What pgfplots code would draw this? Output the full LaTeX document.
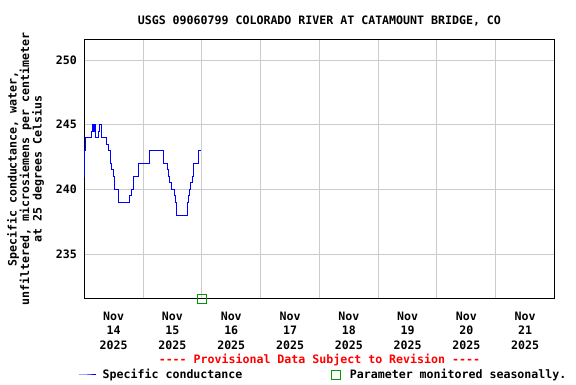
\documentclass[border=0pt]{standalone}
\usepackage{pgfplots}
\pgfplotsset{compat=1.18}
\usepackage{fontspec}
\setmainfont{DejaVu Sans Mono}
\setmonofont{DejaVu Sans Mono}
\definecolor{gridgray}{RGB}{204,204,204}
\definecolor{sqgreen}{RGB}{0,153,0}
\definecolor{lineblue}{RGB}{0,0,255}
\newcommand{\f}{\fontsize{11.6bp}{14.3bp}\selectfont}
\begin{document}
\begin{tikzpicture}[x=1bp,y=1bp]
\useasboundingbox (0,0) rectangle (576,384);
\begin{axis}[
  at={(84.3bp,85.5bp)}, anchor=south west,
  width=470.2bp, height=259bp, scale only axis,
  xmin=0, xmax=192, ymin=231.56, ymax=251.59,
  clip=false,
  ytick={235,240,245,250},
  xtick={12,36,...,180},
  xticklabels={{Nov\\14\\2025},{Nov\\15\\2025},{Nov\\16\\2025},{Nov\\17\\2025},{Nov\\18\\2025},{Nov\\19\\2025},{Nov\\20\\2025},{Nov\\21\\2025}},
  minor xtick={24,48,...,168},
  ymajorgrids, xminorgrids,
  grid style={draw=gridgray, line width=1bp},
  minor grid style={draw=gridgray, line width=1bp},
  major tick length=0pt, minor tick length=0pt,
  axis line style={line width=1bp},
  /pgf/number format/assume math mode=true,
  tick label style={font=\f\bfseries},
  xticklabel style={align=center, inner sep=0pt, anchor=north, yshift=-13.3bp},
  yticklabel style={inner sep=0pt, anchor=east, xshift=-7.3bp},
  yticklabel={\pgfmathprintnumber[fixed,precision=0]{\tick}},
  every axis title shift=0pt,
  title={USGS 09060799 COLORADO RIVER AT CATAMOUNT BRIDGE, CO},
  title style={at={(axis description cs:0.5,1.0598)}, anchor=base, yshift=0pt, inner sep=0pt, font=\f\bfseries},
  ylabel={Specific conductance, water,\\unfiltered, microsiemens per centimeter\\at 25 degrees Celsius},
  ylabel style={at={(axis description cs:-0.125,0.5)}, anchor=center, align=center, inner sep=0pt, font=\fontsize{11.6bp}{12.5bp}\selectfont\bfseries},
  legend columns=2,
  legend style={at={(axis description cs:-0.0134,-0.2953)}, anchor=west, draw=none, fill=none, inner sep=0pt, font=\f\bfseries,
    nodes={inner sep=0pt},
    /tikz/column 1/.style={column sep=6.5bp},
    /tikz/column 2/.style={column sep=89bp},
    /tikz/column 3/.style={column sep=9.5bp}},
  legend cell align=left,
]
\addplot[const plot, color=lineblue, line width=1bp] coordinates {
(0,241) (0.25,243) (0.6,244) (3.0,244.5) (3.25,245) (3.5,244.5) (3.75,245) (4.0,244.5) (4.25,245) (4.5,244)
(6.0,244.5) (6.25,245) (7.0,244) (9.0,243.5) (9.75,243) (10.5,242.5) (10.75,242) (11.25,241.5) (11.75,241)
(12.25,240.5) (12.5,240) (14.0,239) (18.5,239.5) (19.25,240) (20.0,240.5) (20.25,241) (22.0,242) (26.5,243)
(32.5,242) (34.0,241.5) (34.5,241) (34.75,240.5) (35.5,240) (36.75,239.5) (37.25,239) (37.5,238.5) (37.75,238)
(42.0,239) (42.5,239.5) (43.0,240) (43.5,240.5) (44.0,241) (44.5,241.5) (44.75,242) (46.5,243) (47.75,243)
};
\addlegendentry{Specific conductance}
\addplot[only marks, mark=square, mark size=4.5bp, draw=sqgreen, mark options={line width=1bp, fill=none}] coordinates {(48,231.56)};
\addlegendentry{Parameter monitored seasonally.}
\node[anchor=base, inner sep=0pt, text=red, font=\f\bfseries] at (axis description cs:0.5,-0.2502) {-{}-{}-{}- Provisional Data Subject to Revision -{}-{}-{}-};
\end{axis}
\end{tikzpicture}
\end{document}
